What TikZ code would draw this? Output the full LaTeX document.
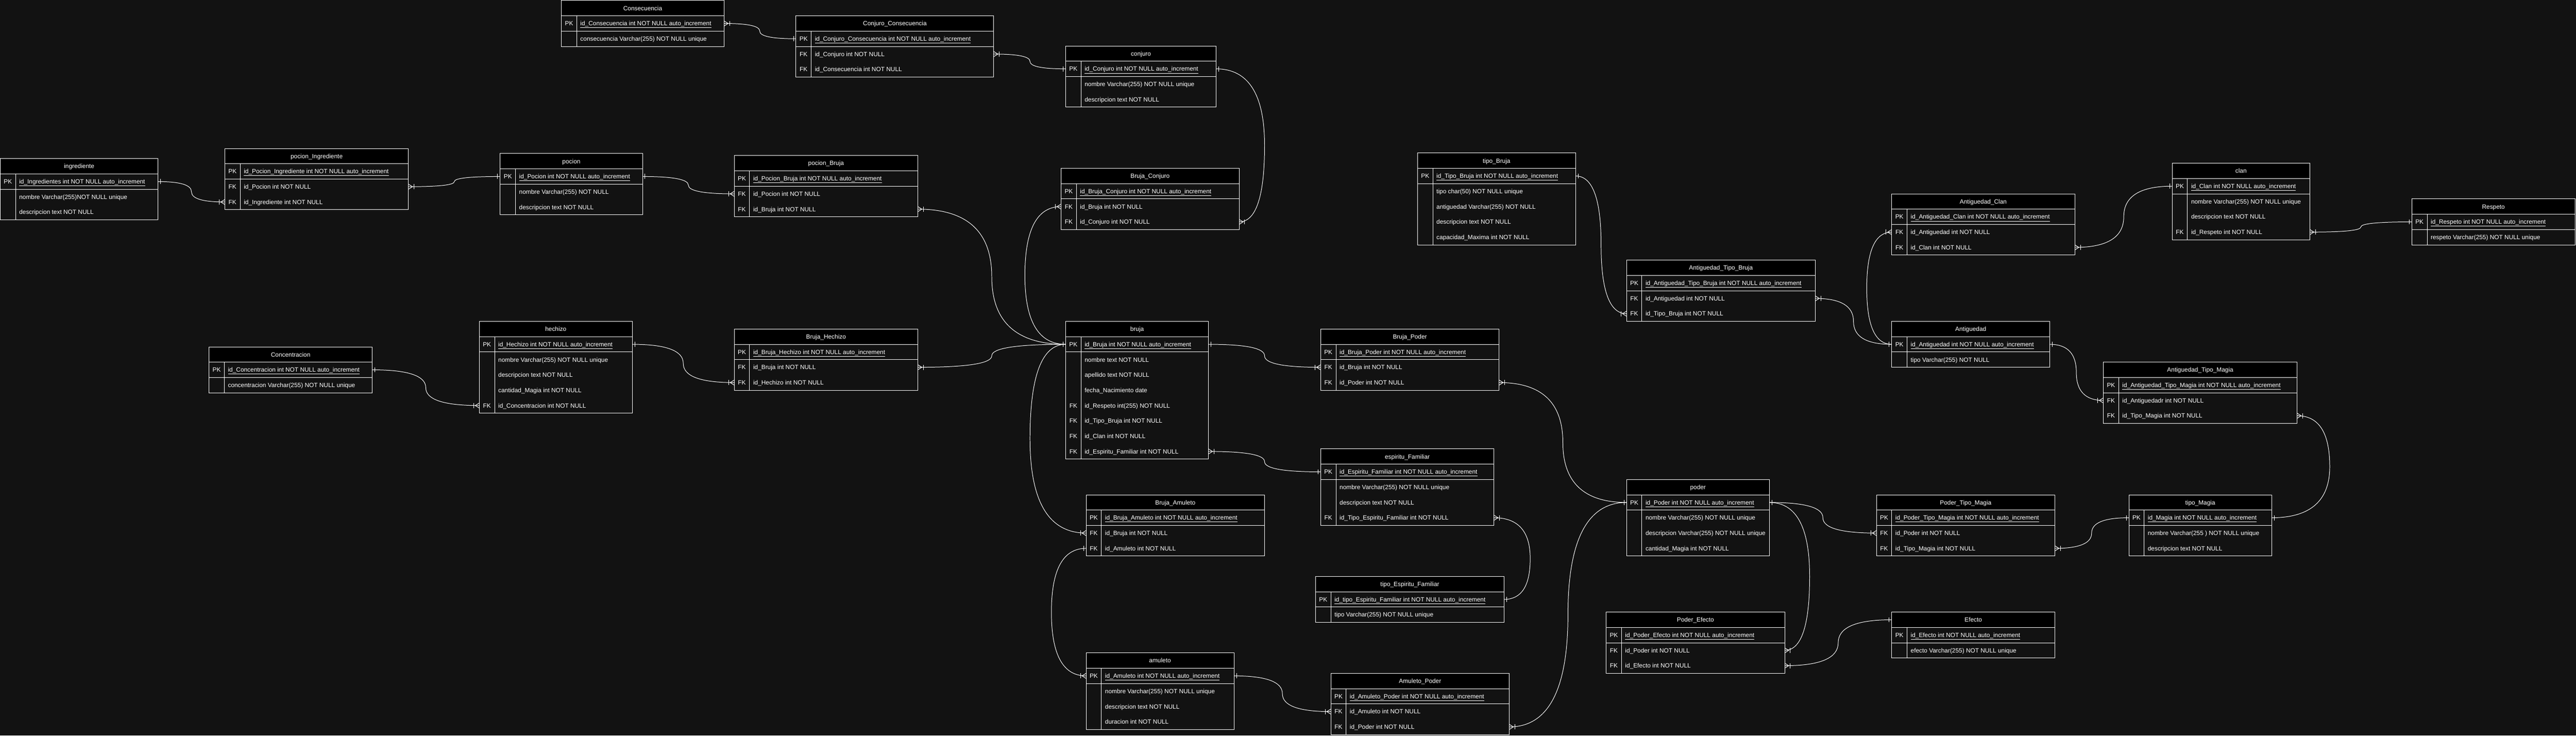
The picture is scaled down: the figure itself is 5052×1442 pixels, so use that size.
\documentclass[tikz,border=0pt]{standalone}
\usepackage{fontspec}
\setmainfont{Liberation Sans}
\usetikzlibrary{calc}
\definecolor{bgc}{HTML}{121212}
\tikzset{
  link/.style={draw=white, line width=1pt},
  tline/.style={draw=white, line width=1pt},
  ttitle/.style={text=white, font=\fontsize{12}{14}\selectfont, inner sep=0pt, anchor=base},
  tkey/.style={text=white, font=\fontsize{12}{14}\selectfont, inner sep=0pt, anchor=base},
  tfield/.style={text=white, font=\fontsize{12}{14}\selectfont, inner sep=0pt, anchor=base west},
}
\newcommand\ertable[7]{%
  \pgfmathsetmacro\erbot{#4+30*(#5+1)}%
  \pgfmathsetmacro\erhb{#4+30}%
  \pgfmathsetmacro\erpk{#4+60}%
  \pgfmathsetmacro\erkx{#2+30}%
  \fill[bgc] (#2,#4) rectangle (#3,\erbot);
  \fill[black] (#2,#4) rectangle (#3,\erhb);
  \draw[tline] (#2,#4) rectangle (#3,\erbot);
  \draw[tline] (#2,\erhb) -- (#3,\erhb);
  \draw[tline] (#2,\erpk) -- (#3,\erpk);
  \draw[tline] (\erkx,\erhb) -- (\erkx,\erbot);
  \node[ttitle] (#1) at ({(#2+#3)/2},{#4+19.3}) {#6};
  \coordinate (#1-0-w) at (#2,{#4+15});
  \coordinate (#1-0-e) at (#3,{#4+15});
  \foreach \k/\t [count=\i] in {#7} {
    \pgfmathsetmacro\yc{#4+15+30*\i}
    \coordinate (#1-\i-w) at (#2,\yc);
    \coordinate (#1-\i-e) at (#3,\yc);
    \node[tkey] (#1-k\i) at ({#2+15},{\yc+4.3}) {\k};
    \node[tfield] (#1-f\i) at ({#2+37},{\yc+4.3}) {\t};
  }
}
\newcommand\erlink[3]{%
  \coordinate (erxm) at (#3,0);
  \coordinate (erqa) at (#1 -| erxm);
  \coordinate (erqb) at (#2 -| erxm);
  \coordinate (ermm) at ($(erqa)!0.5!(erqb)$);
  \draw[link] (#1) .. controls ($(#1)!0.6667!(erqa)$) and ($(ermm)!0.6667!(erqa)$) .. (ermm) .. controls ($(ermm)!0.6667!(erqb)$) and ($(#2)!0.6667!(erqb)$) .. (#2);
}
\newcommand\mone[2]{\draw[link] ($(#1)+(#2*5,-5)$) -- ++(0,10);}
\newcommand\mmany[2]{\draw[link] ($(#1)+(0,-5)$) -- ($(#1)+(#2*8,0)$) -- ($(#1)+(0,5)$); \draw[link] ($(#1)+(#2*11,-5)$) -- ++(0,10);}
\begin{document}
\begin{tikzpicture}[x=1pt,y=-1pt]
\fill[bgc] (0,0) rectangle (5052,1442);
\useasboundingbox (0,0) rectangle (5052,1442);

\ertable{ingrediente}{0.5}{310}{311}{3}{ingrediente}{PK/\underline{id\_Ingredientes int NOT NULL auto\_increment}, /nombre Varchar(255)NOT NULL unique, /descripcion text NOT NULL}
\ertable{pocing}{441}{801}{291}{3}{pocion\_Ingrediente}{PK/\underline{id\_Pocion\_Ingrediente int NOT NULL auto\_increment}, FK/id\_Pocion int NOT NULL, FK/id\_Ingrediente int NOT NULL}
\ertable{consec}{1101}{1420}{1}{2}{Consecuencia}{PK/\underline{id\_Consecuencia int NOT NULL auto\_increment}, /consecuencia Varchar(255) NOT NULL unique}
\ertable{conjcons}{1561}{1949}{31}{3}{Conjuro\_Consecuencia}{PK/\underline{id\_Conjuro\_Consecuencia int NOT NULL auto\_increment}, FK/id\_Conjuro int NOT NULL, FK/id\_Consecuencia int NOT NULL}
\ertable{conjuro}{2090}{2385}{90}{3}{conjuro}{PK/\underline{id\_Conjuro int NOT NULL auto\_increment}, /nombre Varchar(255) NOT NULL unique, /descripcion text NOT NULL}
\ertable{pocion}{981}{1260}{301}{3}{pocion}{PK/\underline{id\_Pocion int NOT NULL auto\_increment}, /nombre Varchar(255) NOT NULL, /descripcion text NOT NULL}
\ertable{pocbru}{1440}{1800}{305}{3}{pocion\_Bruja}{PK/\underline{id\_Pocion\_Bruja int NOT NULL auto\_increment}, FK/id\_Pocion int NOT NULL, FK/id\_Bruja int NOT NULL}
\ertable{brucon}{2081}{2430}{330}{3}{Bruja\_Conjuro}{PK/\underline{id\_Bruja\_Conjuro int NOT NULL auto\_increment}, FK/id\_Bruja int NOT NULL, FK/id\_Conjuro int NOT NULL}
\ertable{tipobruja}{2780}{3090}{300}{5}{tipo\_Bruja}{PK/\underline{id\_Tipo\_Bruja int NOT NULL auto\_increment}, /tipo char(50) NOT NULL unique, /antiguedad Varchar(255) NOT NULL, /descripcion text NOT NULL, /capacidad\_Maxima int NOT NULL}
\ertable{anttb}{3190}{3560}{510}{3}{Antiguedad\_Tipo\_Bruja}{PK/\underline{id\_Antiguedad\_Tipo\_Bruja int NOT NULL auto\_increment}, FK/id\_Antiguedad int NOT NULL, FK/id\_Tipo\_Bruja int NOT NULL}
\ertable{antclan}{3710}{4069}{380}{3}{Antiguedad\_Clan}{PK/\underline{id\_Antiguedad\_Clan int NOT NULL auto\_increment}, FK/id\_Antiguedad int NOT NULL, FK/id\_Clan int NOT NULL}
\ertable{clan}{4260}{4530}{320}{4}{clan}{PK/\underline{id\_Clan int NOT NULL auto\_increment}, /nombre Varchar(255) NOT NULL unique, /descripcion text NOT NULL, FK/id\_Respeto int NOT NULL}
\ertable{respeto}{4730}{5050}{390}{2}{Respeto}{PK/\underline{id\_Respeto int NOT NULL auto\_increment}, /respeto Varchar(255) NOT NULL unique}
\ertable{concen}{410}{730}{680}{2}{Concentracion}{PK/\underline{id\_Concentracion int NOT NULL auto\_increment}, /concentracion Varchar(255) NOT NULL unique}
\ertable{hechizo}{940}{1240}{630}{5}{hechizo}{PK/\underline{id\_Hechizo int NOT NULL auto\_increment}, /nombre Varchar(255) NOT NULL unique, /descripcion text NOT NULL, /cantidad\_Magia int NOT NULL, FK/id\_Concentracion int NOT NULL}
\ertable{bruhech}{1440}{1800}{645}{3}{Bruja\_Hechizo}{PK/\underline{id\_Bruja\_Hechizo int NOT NULL auto\_increment}, FK/id\_Bruja int NOT NULL, FK/id\_Hechizo int NOT NULL}
\ertable{bruja}{2090}{2370}{630}{8}{bruja}{PK/\underline{id\_Bruja int NOT NULL auto\_increment}, /nombre text NOT NULL, /apellido text NOT NULL, /fecha\_Nacimiento date, FK/id\_Respeto int(255) NOT NULL, FK/id\_Tipo\_Bruja int NOT NULL, FK/id\_Clan int NOT NULL, FK/id\_Espiritu\_Familiar int NOT NULL}
\ertable{brupod}{2590}{2940}{645}{3}{Bruja\_Poder}{PK/\underline{id\_Bruja\_Poder int NOT NULL auto\_increment}, FK/id\_Bruja int NOT NULL, FK/id\_Poder int NOT NULL}
\ertable{espfam}{2590}{2930}{880}{4}{espiritu\_Familiar}{PK/\underline{id\_Espiritu\_Familiar int NOT NULL auto\_increment}, /nombre Varchar(255) NOT NULL unique, /descripcion text NOT NULL, FK/id\_Tipo\_Espiritu\_Familiar int NOT NULL}
\ertable{bruam}{2130}{2480}{970}{3}{Bruja\_Amuleto}{PK/\underline{id\_Bruja\_Amuleto int NOT NULL auto\_increment}, FK/id\_Bruja int NOT NULL, FK/id\_Amuleto int NOT NULL}
\ertable{tipoesp}{2580}{2950}{1130}{2}{tipo\_Espiritu\_Familiar}{PK/\underline{id\_tipo\_Espiritu\_Familiar int NOT NULL auto\_increment}, /tipo Varchar(255) NOT NULL unique}
\ertable{amuleto}{2130}{2420}{1280}{4}{amuleto}{PK/\underline{id\_Amuleto int NOT NULL auto\_increment}, /nombre Varchar(255) NOT NULL unique, /descripcion text NOT NULL, /duracion int NOT NULL}
\ertable{ampod}{2610}{2960}{1320}{3}{Amuleto\_Poder}{PK/\underline{id\_Amuleto\_Poder int NOT NULL auto\_increment}, FK/id\_Amuleto int NOT NULL, FK/id\_Poder int NOT NULL}
\ertable{antig}{3710}{4020}{630}{2}{Antiguedad}{PK/\underline{id\_Antiguedad int NOT NULL auto\_increment}, /tipo Varchar(255) NOT NULL}
\ertable{anttm}{4125}{4505}{710}{3}{Antiguedad\_Tipo\_Magia}{PK/\underline{id\_Antiguedad\_Tipo\_Magia int NOT NULL auto\_increment}, FK/id\_Antiguedadr int NOT NULL, FK/id\_Tipo\_Magia int NOT NULL}
\ertable{poder}{3190}{3470}{940}{4}{poder}{PK/\underline{id\_Poder int NOT NULL auto\_increment}, /nombre Varchar(255) NOT NULL unique, /descripcion Varchar(255) NOT NULL unique, /cantidad\_Magia int NOT NULL}
\ertable{podtm}{3680}{4030}{970}{3}{Poder\_Tipo\_Magia}{PK/\underline{id\_Poder\_Tipo\_Magia int NOT NULL auto\_increment}, FK/id\_Poder int NOT NULL, FK/id\_Tipo\_Magia int NOT NULL}
\ertable{tipomagia}{4175}{4455}{970}{3}{tipo\_Magia}{PK/\underline{id\_Magia int NOT NULL auto\_increment}, /nombre Varchar(255 ) NOT NULL unique, /descripcion text NOT NULL}
\ertable{podefe}{3150}{3500}{1200}{3}{Poder\_Efecto}{PK/\underline{id\_Poder\_Efecto int NOT NULL auto\_increment}, FK/id\_Poder int NOT NULL, FK/id\_Efecto int NOT NULL}
\ertable{efecto}{3710}{4030}{1200}{2}{Efecto}{PK/\underline{id\_Efecto int NOT NULL auto\_increment}, /efecto Varchar(255) NOT NULL unique}

\erlink{ingrediente-1-e}{pocing-3-w}{375.5}
\erlink{pocion-1-w}{pocing-2-e}{891}
\erlink{pocion-1-e}{pocbru-2-w}{1350}
\erlink{pocbru-3-e}{bruja-1-w}{1945}
\erlink{brucon-2-w}{bruja-1-w}{2010}
\erlink{bruhech-2-e}{bruja-1-w}{1945}
\erlink{bruja-1-w}{bruam-2-w}{2020}
\erlink{hechizo-1-e}{bruhech-3-w}{1340}
\erlink{concen-1-e}{hechizo-5-w}{835}
\erlink{consec-1-e}{conjcons-1-w}{1490}
\erlink{conjcons-2-e}{conjuro-1-w}{2020}
\erlink{conjuro-1-e}{brucon-3-e}{2480}
\erlink{bruja-1-e}{brupod-2-w}{2480}
\erlink{bruja-8-e}{espfam-1-w}{2480}
\erlink{espfam-4-e}{tipoesp-1-e}{3001}
\erlink{bruam-3-w}{amuleto-1-w}{2062}
\erlink{amuleto-1-e}{ampod-2-w}{2515}
\erlink{ampod-3-e}{poder-1-w}{3075}
\erlink{brupod-3-e}{poder-1-w}{3065}
\erlink{poder-1-e}{podtm-2-w}{3575}
\erlink{poder-1-e}{podefe-2-e}{3549}
\erlink{podefe-3-e}{efecto-0-w}{3605}
\erlink{podtm-3-e}{tipomagia-1-w}{4102}
\erlink{tipomagia-1-e}{anttm-3-e}{4569}
\erlink{antig-1-e}{anttm-2-w}{4072}
\erlink{antig-1-w}{anttb-2-e}{3635}
\erlink{antclan-2-w}{antig-1-w}{3661}
\erlink{tipobruja-1-e}{anttb-3-w}{3140}
\erlink{clan-1-w}{antclan-3-e}{4165}
\erlink{respeto-1-w}{clan-4-e}{4630}

\mone{ingrediente-1-e}{1} \mmany{pocing-3-w}{-1}
\mone{pocion-1-w}{-1} \mmany{pocing-2-e}{1}
\mone{pocion-1-e}{1} \mmany{pocbru-2-w}{-1}
\mmany{pocbru-3-e}{1} \mone{bruja-1-w}{-1}
\mmany{brucon-2-w}{-1}
\mmany{bruhech-2-e}{1}
\mmany{bruam-2-w}{-1}
\mone{hechizo-1-e}{1} \mmany{bruhech-3-w}{-1}
\mone{concen-1-e}{1} \mmany{hechizo-5-w}{-1}
\mmany{consec-1-e}{1} \mone{conjcons-1-w}{-1}
\mmany{conjcons-2-e}{1} \mone{conjuro-1-w}{-1}
\mone{conjuro-1-e}{1} \mmany{brucon-3-e}{1}
\mone{bruja-1-e}{1} \mmany{brupod-2-w}{-1}
\mmany{bruja-8-e}{1} \mone{espfam-1-w}{-1}
\mmany{espfam-4-e}{1} \mone{tipoesp-1-e}{1}
\mone{bruam-3-w}{-1} \mmany{amuleto-1-w}{-1}
\mone{amuleto-1-e}{1} \mmany{ampod-2-w}{-1}
\mmany{ampod-3-e}{1} \mone{poder-1-w}{-1}
\mmany{brupod-3-e}{1}
\mone{poder-1-e}{1} \mmany{podtm-2-w}{-1}
\mmany{podefe-2-e}{1}
\mmany{podefe-3-e}{1} \mone{efecto-0-w}{-1}
\mmany{podtm-3-e}{1} \mone{tipomagia-1-w}{-1}
\mone{tipomagia-1-e}{1} \mmany{anttm-3-e}{1}
\mone{antig-1-e}{1} \mmany{anttm-2-w}{-1}
\mone{antig-1-w}{-1} \mmany{anttb-2-e}{1}
\mmany{antclan-2-w}{-1}
\mone{tipobruja-1-e}{1} \mmany{anttb-3-w}{-1}
\mone{clan-1-w}{-1} \mmany{antclan-3-e}{1}
\mone{respeto-1-w}{-1} \mmany{clan-4-e}{1}
\end{tikzpicture}
\end{document}
